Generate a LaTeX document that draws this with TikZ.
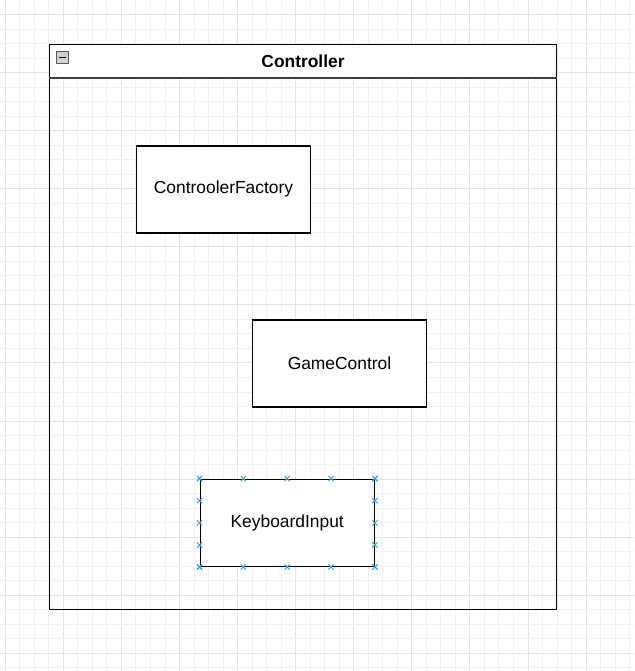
\documentclass[tikz,border=0pt]{standalone}
\usepackage{fontspec}
\setmainfont{Liberation Sans}
\usepackage{tikz}
\usetikzlibrary{calc}
\definecolor{gridminor}{HTML}{F2F2F2}
\definecolor{gridmajor}{HTML}{E3E3E3}
\definecolor{sepgray}{HTML}{3C3C3C}
\definecolor{handleblue}{HTML}{29A9E6}
\newcommand{\mFont}{\fontsize{17.4}{20}\selectfont}
\newcommand{\hcross}[1]{\draw[handle] #1 ++(-2.6,-2.6) -- ++(5.2,5.2) ++(-5.2,0) -- ++(5.2,-5.2)}

\begin{document}
\begin{tikzpicture}[x=1pt,y=-1pt,
    classbox/.style={draw=black, line width=1.4pt, fill=white, minimum width=174pt, minimum height=87pt, inner sep=0pt, font=\mFont},
    container/.style={draw=black, line width=1.6pt, minimum width=507pt, minimum height=565pt, inner sep=0pt},
    header/.style={draw=black, line width=1.6pt, fill=white, minimum width=507pt, minimum height=33pt, inner sep=0pt, font=\mFont\bfseries},
    handle/.style={draw=handleblue, line width=0.9pt}]
    \useasboundingbox (0,0) rectangle (634,671);
    \fill[white] (0,0) rectangle (634,671);
    % grid
    \foreach \i in {0,...,43} {
        \pgfmathtruncatemacro{\m}{mod(\i,4)}
        \ifnum\m=0 \def\gc{gridmajor}\else\def\gc{gridminor}\fi
        \draw[\gc, line width=1pt] (5.3+14.52*\i,0) -- (5.3+14.52*\i,671);
    }
    \foreach \j in {0,...,45} {
        \pgfmathtruncatemacro{\m}{mod(\j,4)}
        \ifnum\m=0 \def\gc{gridmajor}\else\def\gc{gridminor}\fi
        \draw[\gc, line width=1pt] (0,14.5+14.52*\j) -- (634,14.5+14.52*\j);
    }
    % package
    \node[container] (ctrl) at (303,327) {};
    \node[header, anchor=north] (head) at (ctrl.north) {Controller};
    \draw[sepgray, line width=2.4pt] (head.south west) -- (head.south east);
    \node[draw=gray!70!black, fill=gray!35, line width=0.8pt, minimum size=12pt, inner sep=0pt] (fold) at (62.5,57.5) {};
    \draw[black, line width=1.6pt] ($(fold.west)+(3,0)$) -- ($(fold.east)+(-3,0)$);
    % classes
    \node[classbox] (factory) at (223.5,189.5) {ControolerFactory};
    \node[classbox] (game) at (339.5,363.5) {GameControl};
    \node[classbox] (kbd) at (287.2,522.8) {KeyboardInput};
    % connection handles
    \foreach \f in {0,0.25,0.5,0.75,1} {
        \hcross{($(kbd.north west)!\f!(kbd.north east)$)};
        \hcross{($(kbd.south west)!\f!(kbd.south east)$)};
        \hcross{($(kbd.north west)!\f!(kbd.south west)$)};
        \hcross{($(kbd.north east)!\f!(kbd.south east)$)};
    }
\end{tikzpicture}
\end{document}
